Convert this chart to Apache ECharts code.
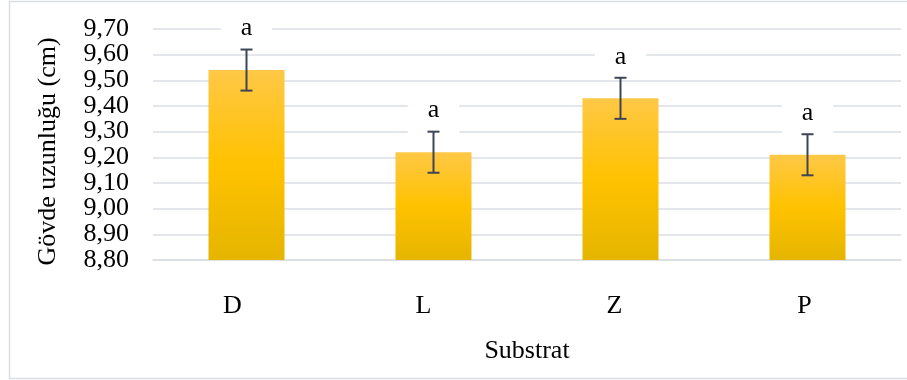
<!DOCTYPE html>
<html>
<head>
<meta charset="utf-8">
<script src="https://cdn.jsdelivr.net/npm/echarts@6/dist/echarts.min.js"></script>
<style>
  html, body { margin: 0; padding: 0; background: #fff; }
  #chart { width: 907px; height: 380px; }
</style>
</head>
<body>
<div id="chart"></div>
<script>
// ---- data ----
const categories = ['D', 'L', 'Z', 'P'];
const means = [9.54, 9.22, 9.43, 9.21];
const errors = [0.08, 0.08, 0.08, 0.08];
const letters = ['a', 'a', 'a', 'a'];
const yTicks = [8.8, 8.9, 9.0, 9.1, 9.2, 9.3, 9.4, 9.5, 9.6, 9.7];
const yMin = 8.8, yMax = 9.7, yInterval = 0.1;
const xTitle = 'Substrat';
const yTitle = 'Gövde uzunluğu (cm)';

// ---- style ----
const FONT = '"Liberation Serif", "Times New Roman", serif';
const GRID_COLOR = '#dadee4';
const ERR_COLOR = '#3d4554';
const labelShift = [14, 10, 6, 3];

const rich = {};
labelShift.forEach((s, i) => { rich['s' + i] = { padding: [0, 2 * s, 0, 0], fontFamily: FONT, fontSize: 26, color: '#000' }; });

const fmtTick = v => v.toFixed(2).replace('.', ',');
const tickLabelStyle = {
  margin: 24, fontFamily: FONT, fontSize: 26, color: '#000', formatter: fmtTick,
  showMinLabel: true, showMaxLabel: true
};
// split tick labels over two label axes so that neighbouring labels never collide
const evenTicks = yTicks.filter((_, i) => i % 2 === 0);
const oddTicks = yTicks.filter((_, i) => i % 2 === 1);

const chart = echarts.init(document.getElementById('chart'), null, { renderer: 'canvas' });

const option = {
  animation: false,
  backgroundColor: '#fff',
  graphic: [{
    type: 'rect', z: 0, silent: true,
    shape: { x: 9.5, y: 1.5, width: 905, height: 377 },
    style: { fill: 'none', stroke: GRID_COLOR, lineWidth: 1.5 }
  }],
  grid: { left: 153, right: 6, top: 29, bottom: 120, containLabel: false },
  xAxis: {
    type: 'category',
    data: categories,
    axisTick: { show: false },
    axisLine: { show: true, lineStyle: { color: GRID_COLOR, width: 1.5 } },
    axisLabel: {
      margin: 33,
      formatter: (v, i) => '{s' + i + '|' + v + '}',
      rich: rich
    },
    name: xTitle,
    nameLocation: 'middle',
    nameGap: 78,
    nameTextStyle: { fontFamily: FONT, fontSize: 26, color: '#000' }
  },
  yAxis: [
    {
      type: 'value',
      min: yMin, max: yMax, interval: yInterval,
      axisLine: { show: false },
      axisTick: { show: false },
      splitLine: { lineStyle: { color: GRID_COLOR, width: 1.5 } },
      axisLabel: Object.assign({ customValues: evenTicks }, tickLabelStyle),
      name: yTitle,
      nameLocation: 'middle',
      nameGap: 92,
      nameRotate: 90,
      nameTextStyle: { fontFamily: FONT, fontSize: 26, color: '#000', padding: [0, 14, 0, 0] }
    },
    {
      type: 'value',
      position: 'left',
      min: yMin, max: yMax, interval: yInterval,
      axisLine: { show: false },
      axisTick: { show: false },
      splitLine: { show: false },
      axisLabel: Object.assign({ customValues: oddTicks }, tickLabelStyle)
    }
  ],
  series: [
    {
      type: 'bar',
      data: means,
      barWidth: 76,
      itemStyle: {
        color: new echarts.graphic.LinearGradient(0, 0, 0, 1, [
          { offset: 0, color: '#FFC846' },
          { offset: 0.5, color: '#FFC200' },
          { offset: 1, color: '#E5B500' }
        ])
      },
      z: 2
    },
    {
      type: 'custom',
      z: 10,
      data: means.map((m, i) => [i, m, errors[i]]),
      renderItem: function (params, api) {
        const i = api.value(0), m = api.value(1), e = api.value(2);
        const top = api.coord([i, m + e]);
        const bot = api.coord([i, m - e]);
        const half = 6;
        return {
          type: 'group',
          children: [
            {
              type: 'text',
              x: top[0], y: top[1] - 21,
              style: {
                text: letters[params.dataIndex],
                fontFamily: FONT, fontSize: 26, lineHeight: 26,
                fill: '#000',
                align: 'center', verticalAlign: 'middle',
                backgroundColor: '#fff',
                padding: [17, 20, 3, 20]
              }
            },
            { type: 'line', shape: { x1: top[0], y1: top[1], x2: bot[0], y2: bot[1] }, style: { stroke: ERR_COLOR, lineWidth: 2 } },
            { type: 'line', shape: { x1: top[0] - half, y1: top[1], x2: top[0] + half, y2: top[1] }, style: { stroke: ERR_COLOR, lineWidth: 2 } },
            { type: 'line', shape: { x1: bot[0] - half, y1: bot[1], x2: bot[0] + half, y2: bot[1] }, style: { stroke: ERR_COLOR, lineWidth: 2 } }
          ]
        };
      }
    }
  ]
};
chart.setOption(option);
</script>
</body>
</html>
